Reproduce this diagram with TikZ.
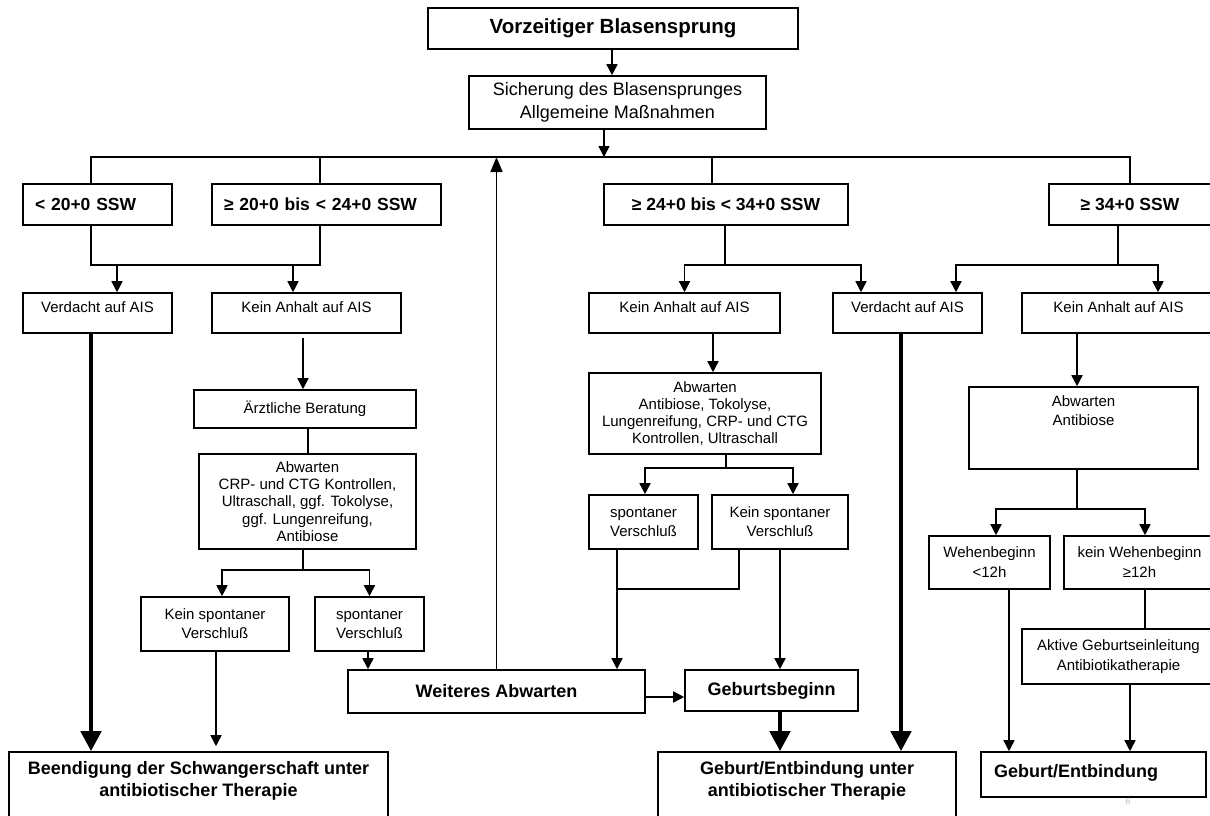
\documentclass[tikz,border=0pt]{standalone}
\usepackage{fontspec}
\setmainfont{Liberation Sans}
\usetikzlibrary{arrows.meta,positioning}

\begin{document}
\begin{tikzpicture}[x=1pt,y=-1pt,
  box/.style={draw, line width=1.6pt, inner sep=0pt, align=center, font=\fontsize{15}{19}\selectfont},
  boldbox/.style={box, font=\bfseries\fontsize{18}{22}\selectfont},
  rowone/.style={box, font=\bfseries\fontsize{17.5}{21}\selectfont, minimum height=41pt},
  txt/.style={inner sep=0pt, align=center, font=\fontsize{15}{18.5}\selectfont},
  boldtxt/.style={txt, font=\bfseries\fontsize{18}{22}\selectfont},
  ln/.style={line width=1.6pt},
  arr/.style={ln, -{Triangle[length=11pt,width=11pt]}},
  split/.style={ln, {Triangle[length=11pt,width=11pt]}-{Triangle[length=11pt,width=11pt]}},
  fat/.style={line width=4.5pt, -{Triangle[length=20pt,width=20pt]}}]

\useasboundingbox[fill=white] (0,0) rectangle (1210,816);

\coordinate (bus) at (0,157);
\coordinate (m1) at (0,265);
\coordinate (m2) at (0,570);
\coordinate (m3) at (0,468);
\coordinate (m4) at (0,589);
\coordinate (m5) at (0,509);

\node[boldbox, font=\bfseries\fontsize{20.5}{24}\selectfont, minimum width=370pt, minimum height=41pt] (top) at (613,28.5) {Vorzeitiger Blasensprung};
\node[box, font=\fontsize{18}{22.5}\selectfont, minimum width=297pt, minimum height=53pt] (sich) at (617.5,102.5) {Sicherung des Blasensprunges\\Allgemeine Maßnahmen};

\node[rowone, text width=125pt, align=left, inner xsep=12pt] (lt20) at (97.5,204.5) {< 20+0 SSW};
\node[rowone, text width=205pt, align=left, inner xsep=12pt] (ge20) at (326.5,204.5) {≥ 20+0 bis < 24+0 SSW};
\node[rowone, minimum width=244pt] (ge24) at (726,204.5) {≥ 24+0 bis < 34+0 SSW};
\node[rowone, minimum width=162pt] (ge34) at (1130,204.5) {≥ 34+0 SSW};

\node[box, minimum width=149pt, minimum height=40pt] (v1) at (97.5,313) {};
\node[txt, below=9pt of v1.north] (v1t) {Verdacht auf AIS};
\node[box, minimum width=189pt, minimum height=40pt] (k1) at (306.5,313) {};
\node[txt, below=9pt of k1.north] (k1t) {Kein Anhalt auf AIS};
\node[box, minimum width=191pt, minimum height=40pt] (k2) at (684.5,313) {};
\node[txt, below=9pt of k2.north] (k2t) {Kein Anhalt auf AIS};
\node[box, minimum width=149pt, minimum height=40pt] (v2) at (907.5,313) {};
\node[txt, below=9pt of v2.north] (v2t) {Verdacht auf AIS};
\node[box, minimum width=193pt, minimum height=40pt] (k3) at (1118.5,313) {};
\node[txt, below=9pt of k3.north] (k3t) {Kein Anhalt auf AIS};

\node[box, minimum width=222pt, minimum height=38pt] (aerzt) at (305,409) {Ärztliche Beratung};
\node[box, font=\fontsize{15}{17.3}\selectfont, minimum width=217pt, minimum height=95pt] (abw1) at (307.5,501.5) {Abwarten\\CRP- und CTG Kontrollen,\\Ultraschall, ggf. Tokolyse,\\ggf. Lungenreifung,\\Antibiose};
\node[box, minimum width=148pt, minimum height=54pt] (ks1) at (215,624) {Kein spontaner\\Verschluß};
\node[box, minimum width=109pt, minimum height=54pt] (s1) at (369.5,624) {spontaner\\Verschluß};

\node[box, font=\fontsize{15}{17.3}\selectfont, minimum width=232pt, minimum height=81pt] (abw2) at (705,413.5) {Abwarten\\Antibiose, Tokolyse,\\Lungenreifung, CRP- und CTG\\Kontrollen, Ultraschall};
\node[box, minimum width=109pt, minimum height=54pt] (s2) at (643.5,522) {spontaner\\Verschluß};
\node[box, minimum width=136pt, minimum height=54pt] (ks2) at (780,522) {Kein spontaner\\Verschluß};

\node[box, minimum width=229pt, minimum height=82pt] (abw3) at (1083.5,428) {};
\node[txt, below=9.5pt of abw3.north] (abw3t) {Abwarten\\Antibiose};
\node[box, font=\fontsize{15}{20}\selectfont, minimum width=121pt, minimum height=53pt] (wb1) at (989.5,562.5) {Wehenbeginn\\<12h};
\node[box, font=\fontsize{15}{20}\selectfont, minimum width=151pt, minimum height=53pt] (wb2) at (1139.5,562.5) {kein Wehenbeginn\\≥12h};
\node[box, font=\fontsize{15}{20}\selectfont, minimum width=193pt, minimum height=55pt] (aktiv) at (1118.5,656.5) {Aktive Geburtseinleitung\\Antibiotikatherapie};

\node[boldbox, minimum width=297pt, minimum height=43pt] (wa) at (496.5,691.5) {Weiteres Abwarten};
\node[boldbox, minimum width=173pt, minimum height=41pt] (gb) at (771.5,690.5) {Geburtsbeginn};

\node[box, minimum width=379pt, minimum height=70pt] (end) at (198.5,787) {};
\node[boldtxt, below=10.5pt of end.north] (endt) {Beendigung der Schwangerschaft unter\\antibiotischer Therapie};
\node[box, minimum width=298pt, minimum height=70pt] (geu) at (807,787) {};
\node[boldtxt, below=10.5pt of geu.north] (geut) {Geburt/Entbindung unter\\antibiotischer Therapie};
\node[boldbox, text width=199pt, align=left, inner xsep=13pt, minimum height=45pt, text depth=8pt] (ge) at (1093.5,774.5) {Geburt/Entbindung};

\node[font=\fontsize{9}{9}\selectfont, text=gray!50, inner sep=0pt] (page) at (1128,801) {6};

\draw[arr] ([xshift=-1pt]top.south) -- ([xshift=-1pt]top.south |- sich.north);
\draw[arr] ([xshift=-13.5pt]sich.south) -- ([xshift=-13.5pt]sich.south |- bus);
\draw[ln] ([xshift=-6.5pt]lt20.north) |- (ge34.north |- bus) -- (ge34.north);
\draw[ln] ([xshift=-6.5pt]ge20.north) -- ([xshift=-6.5pt]ge20.north |- bus);
\draw[ln] ([xshift=-14pt]ge24.north) -- ([xshift=-14pt]ge24.north |- bus);

\draw[ln] ([xshift=-6.5pt]lt20.south) |- ([xshift=-6.5pt]ge20.south |- m1) -- ([xshift=-6.5pt]ge20.south);
\draw[split] ([xshift=19.5pt]v1.north) |- ([xshift=-13.5pt]k1.north |- m1) -- ([xshift=-13.5pt]k1.north);
\draw[ln] ([xshift=-1pt]ge24.south) -- ([xshift=-1pt]ge24.south |- m1);
\draw[split] (k2.north) |- ([xshift=-46.5pt]v2.north |- m1) -- ([xshift=-46.5pt]v2.north);
\draw[ln] ([xshift=-12pt]ge34.south) -- ([xshift=-12pt]ge34.south |- m1);
\draw[split] ([xshift=48.5pt]v2.north) |- ([xshift=39.5pt]k3.north |- m1) -- ([xshift=39.5pt]k3.north);

\draw[fat] ([xshift=-6.5pt]v1.south) -- ([xshift=-6.5pt]v1.south |- end.north);
\draw[fat] ([xshift=-6.5pt]v2.south) -- ([xshift=-6.5pt]v2.south |- geu.north);

\draw[arr, shorten <=4pt] ([xshift=-2pt]aerzt.north |- k1.south) -- ([xshift=-2pt]aerzt.north);
\draw[ln] ([xshift=3pt]aerzt.south) -- ([xshift=3pt]aerzt.south |- abw1.north);
\draw[ln] ([xshift=-4.5pt]abw1.south) -- ([xshift=-4.5pt]abw1.south |- m2);
\draw[split] ([xshift=7pt]ks1.north) |- (s1.north |- m2) -- (s1.north);
\draw[arr, shorten >=5pt] ([xshift=1pt]ks1.south) -- ([xshift=1pt]ks1.south |- end.north);
\draw[arr] ([xshift=-1.5pt]s1.south) -- ([xshift=-1.5pt]s1.south |- wa.north);
\draw[arr] ([yshift=-5.5pt]wa.east) -- ([yshift=-5.5pt]wa.east -| gb.west);
\draw[ln, -{Triangle[length=15pt,width=12pt]}] (wa.north) -- (wa.north |- bus);

\draw[arr] ([xshift=28.5pt]k2.south) -- ([xshift=28.5pt]k2.south |- abw2.north);
\draw[ln] ([xshift=21pt]abw2.south) -- ([xshift=21pt]abw2.south |- m3);
\draw[split] ([xshift=1.5pt]s2.north) |- ([xshift=13pt]ks2.north |- m3) -- ([xshift=13pt]ks2.north);
\draw[arr] ([xshift=-26.5pt]s2.south) -- ([xshift=-26.5pt]s2.south |- wa.north);
\draw[ln] ([xshift=-41pt]ks2.south) |- ([xshift=-26.5pt]s2.south |- m4);
\draw[arr] (ks2.south) -- (ks2.south |- gb.north);
\draw[fat] ([xshift=8.5pt]gb.south) -- ([xshift=8.5pt]gb.south |- geu.north);

\draw[arr] ([xshift=-41.5pt]k3.south) -- ([xshift=-41.5pt]k3.south |- abw3.north);
\draw[ln] ([xshift=-6.5pt]abw3.south) -- ([xshift=-6.5pt]abw3.south |- m5);
\draw[split] ([xshift=6.5pt]wb1.north) |- ([xshift=5.5pt]wb2.north |- m5) -- ([xshift=5.5pt]wb2.north);
\draw[arr] ([xshift=19.5pt]wb1.south) -- ([xshift=19.5pt]wb1.south |- ge.north);
\draw[ln] ([xshift=5.5pt]wb2.south) -- ([xshift=5.5pt]wb2.south |- aktiv.north);
\draw[arr] ([xshift=11.5pt]aktiv.south) -- ([xshift=11.5pt]aktiv.south |- ge.north);
\end{tikzpicture}
\end{document}
